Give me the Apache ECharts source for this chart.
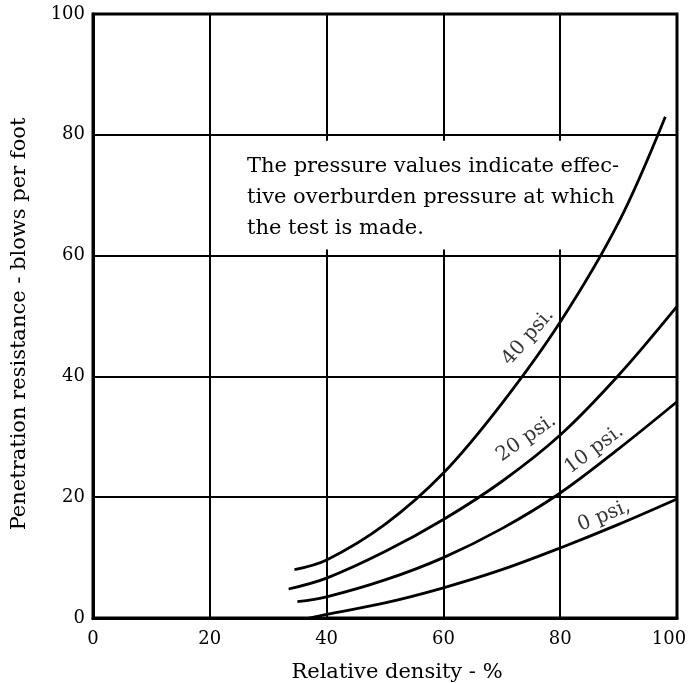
<!DOCTYPE html>
<html>
<head>
<meta charset="utf-8">
<script src="https://cdn.jsdelivr.net/npm/echarts@6/dist/echarts.min.js"></script>
<style>
html,body{margin:0;padding:0;background:#fff;}
#chart{width:688px;height:683px;}
</style>
</head>
<body>
<div id="chart"></div>
<script>
// Axis ticks
const xTicks = [0, 20, 40, 60, 80, 100];
const yTicks = [0, 20, 40, 60, 80, 100];

// Curves: [relative density %, blows per foot]
const psi40 = [[34.5, 8.0], [40, 9.6], [50, 15.5], [60, 24], [70, 35.5], [80, 49], [90, 65.5], [98, 83]];
const psi20 = [[33.5, 4.8], [40, 6.6], [50, 11], [60, 16.3], [70, 22.6], [80, 30.3], [90, 40.2], [100, 51.6]];
const psi10 = [[35, 2.7], [40, 3.5], [50, 6.3], [60, 10], [70, 14.8], [80, 20.7], [90, 28], [100, 35.8]];
const psi0  = [[37, 0], [40, 0.6], [50, 2.5], [60, 5], [70, 8], [80, 11.6], [90, 15.5], [100, 19.7]];

// Curve labels: [x, y, text, angle]
const curveLabels = [
  [74.5, 46.5, '40 psi.', 49],
  [74.2, 29.8, '20 psi.', 35],
  [85.8, 27.9, '10 psi.', 37],
  [87.5, 16.9, '0 psi,', 22]
];

// Note box extent (data units) and text
const noteBox = [[21, 61], [98.5, 79]];
const noteLines = ['The pressure values indicate effec-', 'tive overburden pressure at which', 'the test is made.'];

const FONT = 'DejaVu Serif';
const chart = echarts.init(document.getElementById('chart'));

function curve(data) {
  return {
    type: 'line', data: data, smooth: 0.35, symbol: 'none', z: 3,
    lineStyle: { color: '#000', width: 2.8 }, silent: true
  };
}

const series = [
  {
    type: 'line', data: [], z: 1, silent: true,
    markArea: {
      silent: true,
      itemStyle: { color: '#fff' },
      data: [[{ coord: noteBox[0] }, { coord: noteBox[1] }]]
    }
  },
  curve(psi40), curve(psi20), curve(psi10), curve(psi0)
];
curveLabels.forEach(function (l) {
  series.push({
    type: 'scatter', data: [[l[0], l[1]]], symbolSize: 0, z: 4, silent: true,
    label: {
      show: true, position: 'inside', formatter: l[2], rotate: l[3],
      fontFamily: FONT, fontSize: 20, color: '#000'
    }
  });
});

chart.setOption({
  animation: false,
  backgroundColor: '#fff',
  grid: { left: 93, right: 11, top: 14, bottom: 65, show: true, borderColor: '#000', borderWidth: 3,
          backgroundColor: 'transparent', containLabel: false, outerBoundsMode: 'none' },
  xAxis: {
    type: 'value', min: xTicks[0], max: xTicks[xTicks.length - 1], interval: 20,
    name: 'Relative density - %', nameLocation: 'middle', nameGap: 44,
    nameTextStyle: { fontFamily: FONT, fontSize: 21, color: '#000', padding: [0, 0, 0, 24] },
    axisLine: { show: true, lineStyle: { color: '#000', width: 3 } },
    axisTick: { show: false },
    axisLabel: {
      fontFamily: FONT, fontSize: 18, color: '#000', margin: 12,
      formatter: function (v) { return v === xTicks[xTicks.length - 1] ? '{r|' + v + '}' : String(v); },
      rich: { r: { fontFamily: FONT, fontSize: 18, color: '#000', padding: [0, 16, 0, 0] } }
    },
    splitLine: { show: true, lineStyle: { color: '#000', width: 2 } }
  },
  yAxis: {
    type: 'value', min: yTicks[0], max: yTicks[yTicks.length - 1], interval: 20,
    name: 'Penetration resistance - blows per foot', nameLocation: 'middle', nameGap: 63,
    nameTextStyle: { fontFamily: FONT, fontSize: 21, color: '#000', padding: [0, 16, 0, 0] },
    axisLine: { show: true, lineStyle: { color: '#000', width: 3 } },
    axisTick: { show: false },
    axisLabel: { fontFamily: FONT, fontSize: 18, color: '#000', margin: 8 },
    splitLine: { show: true, lineStyle: { color: '#000', width: 2 } }
  },
  graphic: [{
    type: 'text', left: 247, top: 151, z: 10, silent: true,
    style: { text: noteLines.join('\n'), fontFamily: FONT, fontSize: 21, lineHeight: 31, fill: '#000' }
  }],
  series: series
});
</script>
</body>
</html>
